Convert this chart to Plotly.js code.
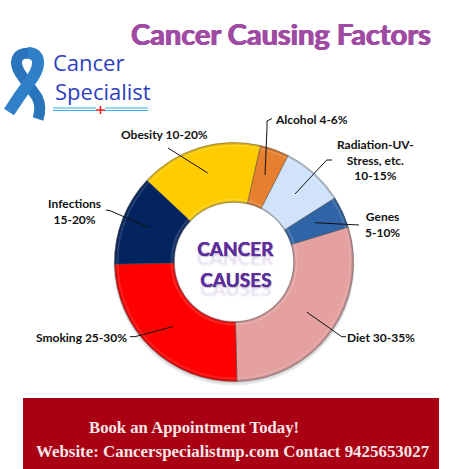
<!DOCTYPE html>
<html><head><meta charset="utf-8">
<script src="https://cdn.plot.ly/plotly-3.0.0.min.js"></script>
<style>html,body{margin:0;padding:0;background:#fff;overflow:hidden}</style>
</head><body><div id="c" style="width:451px;height:469px"></div>
<script>
const categories=['Alcohol','Radiation-UV-Stress','Genes','Diet','Smoking','Infections','Obesity'];
const sliceValues=[3.95,8.5,4.3,29.3,25.1,12.3,16.55];
const sliceColors=['#E6802E','#D0E3FB','#2F65A7','#E5A0A0','#FE0000','#04245F','#FFCC00'];
const W=451,H=469;
const px=x=>x/W, py=y=>1-y/H;
const cx=234,cy=262,R=119.5;
const labelTexts=[
 ['<b>Alcohol 4-6%</b>',311.5,119],
 ['<b>Radiation-UV-<br>Stress, etc.<br>10-15%</b>',375,160],
 ['<b>Genes<br>5-10%</b>',382,224],
 ['<b>Diet 30-35%</b>',381,337],
 ['<b>Smoking 25-30%</b>',81,337],
 ['<b>Infections<br>15-20%</b>',74,211],
 ['<b>Obesity 10-20%</b>',164,134]
];
const leaders=[
 [[265,175],[267,128],[267,121],[272,118.5]],
 [[295,194],[326.7,160],[332,160]],
 [[315,222.7],[359,225]],
 [[306.7,312],[341.7,336.7],[346,336.7]],
 [[172.7,326.7],[135,336.7],[130,336.7]],
 [[150,228],[110,210.7],[106,210]],
 [[207.7,173],[168,148]]
];
const shapes=[];
const P=(x,y)=>px(x)+' '+py(y);
function path(d,fill,line,lw,layer){shapes.push({type:'path',xref:'paper',yref:'paper',path:d,fillcolor:fill,line:{color:line||'rgba(0,0,0,0)',width:lw||0},layer:layer||'above'});}
function rect(x0,y0,x1,y1,fill){shapes.push({type:'rect',xref:'paper',yref:'paper',x0:px(x0),x1:px(x1),y0:py(y0),y1:py(y1),fillcolor:fill,line:{width:0},layer:'below'});}
function circle(r,col,w,dy,fill,layer){shapes.push({type:'circle',xref:'paper',yref:'paper',x0:px(cx-r),x1:px(cx+r),y0:py(cy+(dy||0)+r),y1:py(cy+(dy||0)-r),fillcolor:fill||'rgba(0,0,0,0)',line:{color:col,width:w},layer:layer||'above'});}
rect(23,398,439,469,'#A90014');
circle(R+1,'rgba(0,0,0,0)',0,3,'rgba(120,120,120,0.15)','below');
circle(R+0.5,'rgba(0,0,0,0)',0,1.5,'rgba(120,120,120,0.2)','below');
circle(70,'rgba(0,0,0,0)',0,0,'#ffffff','below');
circle(R-1,'rgba(60,60,60,0.18)',2);
circle(R-3,'rgba(255,255,255,0.12)',2);
circle(60.5,'rgba(90,90,90,0.28)',1.5);
circle(62.5,'rgba(255,255,255,0.14)',2);
leaders.forEach(l=>path('M'+l.map(p=>P(p[0],p[1])).join(' L'),'rgba(0,0,0,0)','#111',1));
// ribbon logo
path(`M${P(29,53)} C${P(15,53)} ${P(14,63)} ${P(20,73)} L${P(37,97)} C${P(40,103)} ${P(41,110)} ${P(38,119)}`,'rgba(0,0,0,0)','#2A74BC',11);
path(`M${P(28,53)} C${P(41,53)} ${P(40,66)} ${P(33,77)} L${P(19,97)} L${P(9,112)}`,'rgba(0,0,0,0)','#2F80C8',12);
[108,110.5].forEach(y=>{
 shapes.push({type:'line',xref:'paper',yref:'paper',x0:px(53),x1:px(96),y0:py(y),y1:py(y),line:{color:'#35AEE8',width:1},layer:'above'});
 shapes.push({type:'line',xref:'paper',yref:'paper',x0:px(105),x1:px(148),y0:py(y),y1:py(y),line:{color:'#35AEE8',width:1},layer:'above'});
});
shapes.push({type:'line',xref:'paper',yref:'paper',x0:px(96),x1:px(105),y0:py(110),y1:py(110),line:{color:'#F01818',width:1.5},layer:'above'});
shapes.push({type:'line',xref:'paper',yref:'paper',x0:px(100.5),x1:px(100.5),y0:py(106),y1:py(114),line:{color:'#F01818',width:1.5},layer:'above'});
const ann=[];
function T(text,x,y,size,color,family,anchor,shadow){const font={size,color,family};if(shadow)font.shadow=shadow;ann.push({text,xref:'paper',yref:'paper',x:px(x),y:py(y),xanchor:anchor||'center',yanchor:'middle',showarrow:false,align:anchor==='left'?'left':'center',font});}
const sans='Lato, "Open Sans", sans-serif';
labelTexts.forEach(l=>T(l[0],l[1],l[2],12,'#111',sans));
T('<b>Cancer Causing Factors</b>',281,33,29,'#A04BA3','Lato, sans-serif','center','0.6px 0 0 #A04BA3, -0.6px 0 0 #A04BA3');
T('Cancer',51,62.5,22,'#2E3FBF','"Open Sans", sans-serif','left');
T('Specialist',52.5,91,22,'#2E3FBF','"Open Sans", sans-serif','left');
const refl='0 9px 2px rgba(91,45,158,0.16), 0.4px 0 0 #5B2D9E, 1px 1px 1px rgba(90,90,90,0.4)';
T('<b>CANCER</b>',235,249,19,'#5B2D9E',sans,'center',refl);
T('<b>CAUSES</b>',235,279,19,'#5B2D9E',sans,'center',refl);
T('<b>Book an Appointment Today!</b>',193.5,427,16.7,'#F6E6E6','"Liberation Serif", serif');
T('<b>Website: Cancerspecialistmp.com Contact 9425653027</b>',233.5,451,16.9,'#F6E6E6','"Liberation Serif", serif');
const trace={type:'pie',labels:categories,values:sliceValues,sort:false,direction:'clockwise',rotation:12.8,hole:0.5,textinfo:'none',hoverinfo:'label',showlegend:false,
 marker:{colors:sliceColors,line:{color:'rgba(70,70,70,0.45)',width:1}},
 domain:{x:[px(cx-R),px(cx+R)],y:[py(cy+R),py(cy-R)]}};
Plotly.newPlot('c',[trace],{width:W,height:H,margin:{l:0,r:0,t:0,b:0},paper_bgcolor:'#fff',showlegend:false,shapes,annotations:ann},{displayModeBar:false,staticPlot:true});
</script></body></html>
